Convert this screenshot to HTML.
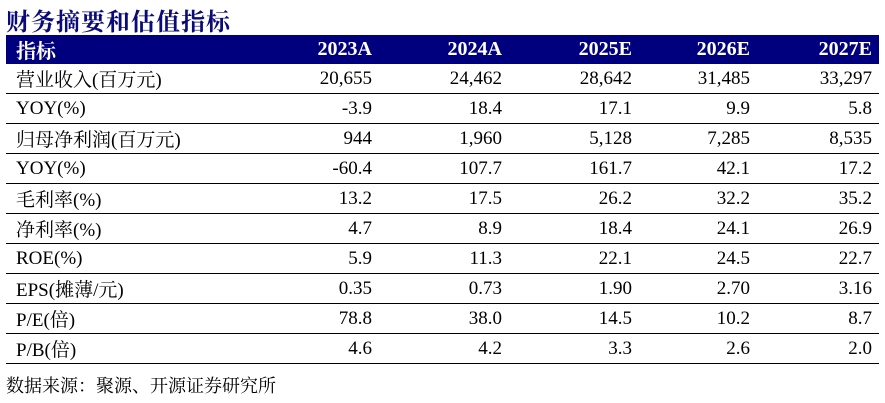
<!DOCTYPE html>
<html><head><meta charset="utf-8"><style>
body{margin:0;width:885px;height:403px;background:#fff;position:relative;overflow:hidden;font-family:"Liberation Serif","Noto Serif CJK SC","Noto Serif CJK JP",serif;}
#title{position:absolute;left:6px;top:2px;font-size:24px;font-weight:bold;color:#0a0a78;letter-spacing:1px;}
table{position:absolute;left:6px;top:35px;width:873px;border-collapse:collapse;font-size:19px;color:#000;}
th{background:#00007f;color:#fff;font-weight:bold;height:29px;padding:0;text-align:right;font-size:20px;}
th:first-child{text-align:left;padding-left:10px;}
td{height:29px;border-bottom:1px solid #000;padding:0;text-align:right;}
td:first-child{text-align:left;padding-left:10px;}
td:last-child,th:last-child{padding-right:7px;}
#src{position:absolute;left:6px;top:372px;font-size:18px;color:#000;}
</style></head><body>
<div id="title">财务摘要和估值指标</div>
<table>
<colgroup><col style="width:246px"><col style="width:120px"><col style="width:130px"><col style="width:130px"><col style="width:118px"><col style="width:129px"></colgroup>
<tr><th>指标</th><th>2023A</th><th>2024A</th><th>2025E</th><th>2026E</th><th>2027E</th></tr>
<tr><td>营业收入(百万元)</td><td>20,655</td><td>24,462</td><td>28,642</td><td>31,485</td><td>33,297</td></tr>
<tr><td>YOY(%)</td><td>-3.9</td><td>18.4</td><td>17.1</td><td>9.9</td><td>5.8</td></tr>
<tr><td>归母净利润(百万元)</td><td>944</td><td>1,960</td><td>5,128</td><td>7,285</td><td>8,535</td></tr>
<tr><td>YOY(%)</td><td>-60.4</td><td>107.7</td><td>161.7</td><td>42.1</td><td>17.2</td></tr>
<tr><td>毛利率(%)</td><td>13.2</td><td>17.5</td><td>26.2</td><td>32.2</td><td>35.2</td></tr>
<tr><td>净利率(%)</td><td>4.7</td><td>8.9</td><td>18.4</td><td>24.1</td><td>26.9</td></tr>
<tr><td>ROE(%)</td><td>5.9</td><td>11.3</td><td>22.1</td><td>24.5</td><td>22.7</td></tr>
<tr><td>EPS(摊薄/元)</td><td>0.35</td><td>0.73</td><td>1.90</td><td>2.70</td><td>3.16</td></tr>
<tr><td>P/E(倍)</td><td>78.8</td><td>38.0</td><td>14.5</td><td>10.2</td><td>8.7</td></tr>
<tr><td>P/B(倍)</td><td>4.6</td><td>4.2</td><td>3.3</td><td>2.6</td><td>2.0</td></tr>
</table>
<div id="src">数据来源：聚源、开源证券研究所</div>
</body></html>
